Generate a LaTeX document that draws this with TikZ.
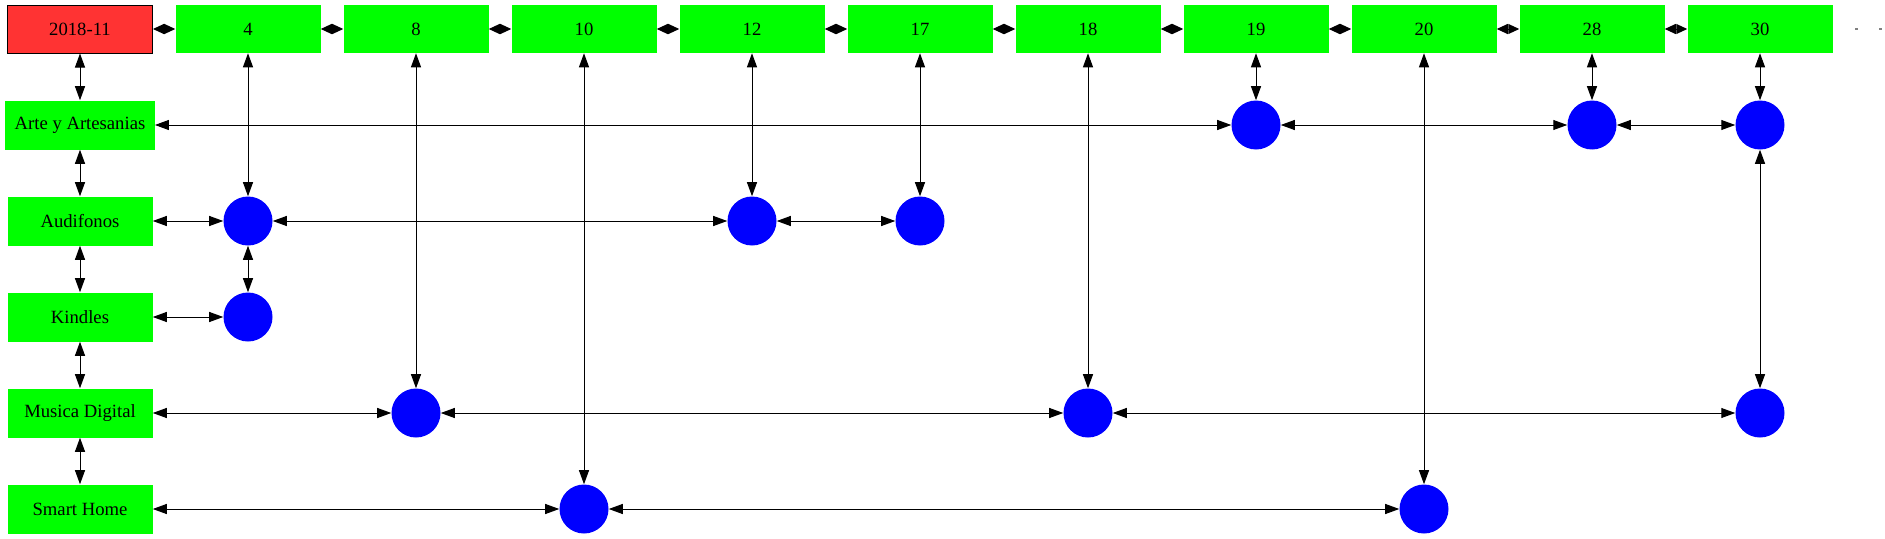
\documentclass[tikz,border=0pt]{standalone}
\usepackage{fontspec}
\setmainfont{Liberation Serif}
\usepackage{tikz}
\usetikzlibrary{positioning,arrows.meta}
\definecolor{headred}{HTML}{FF3333}
\definecolor{boxgreen}{HTML}{00FF00}
\tikzset{month/.style = {rectangle,draw=black,fill=headred,line width=0.75pt,minimum width=108.75pt,minimum height=36pt,inner sep=0pt,font=\fontsize{14pt}{16pt}\selectfont},
         day/.style = {rectangle,fill=boxgreen,minimum width=108.75pt,minimum height=36pt,inner sep=0pt,font=\fontsize{14pt}{16pt}\selectfont},
         cat/.style = {rectangle,fill=boxgreen,minimum width=108.75pt,minimum height=36.75pt,inner xsep=7pt,inner ysep=0pt,font=\fontsize{14pt}{16pt}\selectfont},
         cell/.style = {circle,fill=blue,minimum size=36.75pt,inner sep=0pt},
         tail/.style = {rectangle,fill=gray,minimum width=2.25pt,minimum height=1.1pt,inner sep=0pt},
         link/.style = {{Triangle[length=10.5pt,width=7.5pt]}-{Triangle[length=10.5pt,width=7.5pt]},line width=0.75pt},
         hlink/.style = {{Triangle[length=8.25pt,width=7.5pt]}-{Triangle[length=8.25pt,width=7.5pt]},line width=0.75pt}}

\begin{document}
\begin{tikzpicture}[x=0.75pt,y=-0.75pt]
        \useasboundingbox (0,0) rectangle (1885,539);
        % header row
        \node [month] (hd)  at (80, 29)  {2018-11};
        \node [day]   (d4)  at (248, 29) {4};
        \node [day]   (d8)  at (416, 29) {8};
        \node [day]   (d10) at (584, 29) {10};
        \node [day]   (d12) at (752, 29) {12};
        \node [day]   (d17) at (920, 29) {17};
        \node [day]   (d18) at (1088, 29) {18};
        \node [day]   (d19) at (1256, 29) {19};
        \node [day]   (d20) at (1424, 29) {20};
        \node [day]   (d28) at (1592, 29) {28};
        \node [day]   (d30) at (1760, 29) {30};
        \node [tail]  (t1)  at (1856, 29) {};
        \node [tail]  (t2)  at (1880, 29) {};
        % categories
        \node [cat] (arte) at (80, 125) {Arte y Artesanias};
        \node [cat] (audi) at (80, 221) {Audifonos};
        \node [cat] (kind) at (80, 317) {Kindles};
        \node [cat] (musi) at (80, 413) {Musica Digital};
        \node [cat] (smar) at (80, 509) {Smart Home};
        % cells
        \node [cell] (arte19) at (1256, 125) {};
        \node [cell] (arte28) at (1592, 125) {};
        \node [cell] (arte30) at (1760, 125) {};
        \node [cell] (audi4)  at (248, 221) {};
        \node [cell] (audi12) at (752, 221) {};
        \node [cell] (audi17) at (920, 221) {};
        \node [cell] (kind4)  at (248, 317) {};
        \node [cell] (musi8)  at (416, 413) {};
        \node [cell] (musi18) at (1088, 413) {};
        \node [cell] (musi30) at (1760, 413) {};
        \node [cell] (smar10) at (584, 509) {};
        \node [cell] (smar20) at (1424, 509) {};
        % header chain
        \draw [hlink] (hd) -- (d4);
        \draw [hlink] (d4) -- (d8);
        \draw [hlink] (d8) -- (d10);
        \draw [hlink] (d10) -- (d12);
        \draw [hlink] (d12) -- (d17);
        \draw [hlink] (d17) -- (d18);
        \draw [hlink] (d18) -- (d19);
        \draw [hlink] (d19) -- (d20);
        \draw [hlink] (d20) -- (d28);
        \draw [hlink] (d28) -- (d30);
        % category chain
        \draw [link] (hd) -- (arte);
        \draw [link] (arte) -- (audi);
        \draw [link] (audi) -- (kind);
        \draw [link] (kind) -- (musi);
        \draw [link] (musi) -- (smar);
        % rows
        \draw [link] (arte) -- (arte19);
        \draw [link] (arte19) -- (arte28);
        \draw [link] (arte28) -- (arte30);
        \draw [link] (audi) -- (audi4);
        \draw [link] (audi4) -- (audi12);
        \draw [link] (audi12) -- (audi17);
        \draw [link] (kind) -- (kind4);
        \draw [link] (musi) -- (musi8);
        \draw [link] (musi8) -- (musi18);
        \draw [link] (musi18) -- (musi30);
        \draw [link] (smar) -- (smar10);
        \draw [link] (smar10) -- (smar20);
        % columns
        \draw [link] (d4) -- (audi4);
        \draw [link] (audi4) -- (kind4);
        \draw [link] (d8) -- (musi8);
        \draw [link] (d10) -- (smar10);
        \draw [link] (d12) -- (audi12);
        \draw [link] (d17) -- (audi17);
        \draw [link] (d18) -- (musi18);
        \draw [link] (d19) -- (arte19);
        \draw [link] (d20) -- (smar20);
        \draw [link] (d28) -- (arte28);
        \draw [link] (d30) -- (arte30);
        \draw [link] (arte30) -- (musi30);
\end{tikzpicture}
\end{document}
